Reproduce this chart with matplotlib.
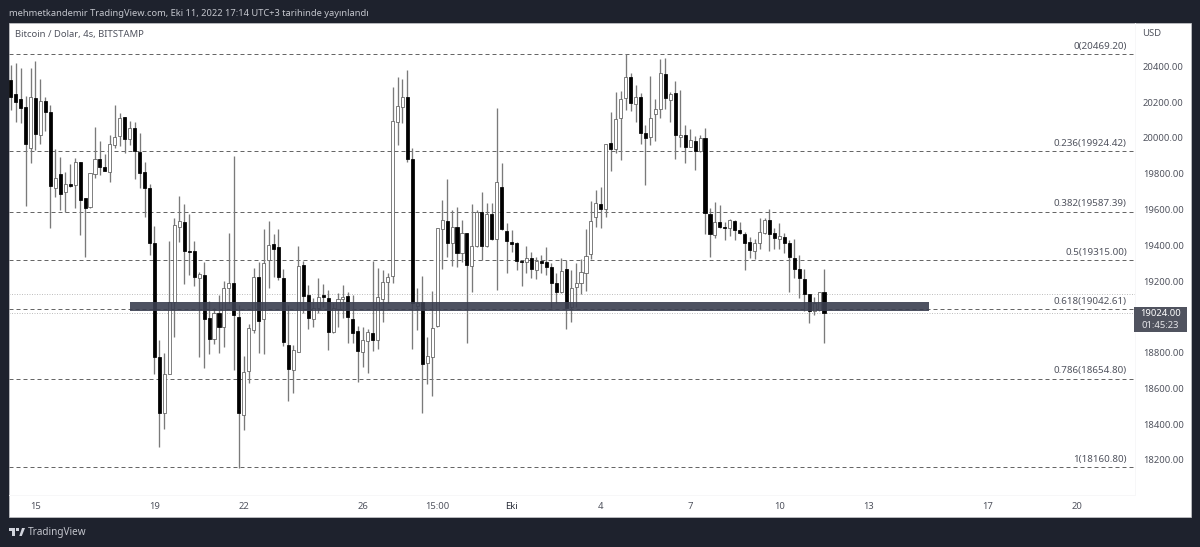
import matplotlib
matplotlib.use("Agg")
import matplotlib.pyplot as plt
from matplotlib.patches import Rectangle, Polygon

opens = [20324,20246,20216,20175,19942,20221,20018,20206,20145,19722,19800,19698,19744,19739,19864,19662,19616,19798,19882,19837,
19810,19962,20009,20115,19996,20055,19921,19811,19722,19413,18774,18464,18680,19083,19502,19530,19366,19368,19217,19234,
18993,18876,19021,18943,19161,19189,18999,18451,18697,18926,19223,18988,19318,19407,19390,19217,18842,18703,18803,19290,
19122,18988,19049,19122,19105,18915,19044,19100,19116,18988,18921,18803,18865,18910,18870,19100,19195,19228,20089,20173,
20229,19882,19060,19083,18742,18775,18949,19491,19536,19413,19502,19357,19469,19284,19396,19586,19396,19575,19435,19726,
19480,19418,19413,19312,19306,19329,19262,19312,19306,19278,19189,19139,19267,19055,19167,19189,19245,19351,19558,19631,
19603,19972,19938,20111,20223,20341,20190,20229,20027,20005,20134,20162,20357,20212,20251,20005,20016,19949,19983,19927,
20000,19575,19457,19530,19502,19496,19536,19485,19463,19418,19368,19413,19469,19541,19469,19435,19446,19413,19329,19267,
19211,19128,19032,19038,19139]
highs = [20408,20417,20389,20234,20389,20430,20329,20227,20184,19936,19892,19808,19853,19886,19864,19662,19806,20059,19984,19908,
20016,20184,20141,20115,20093,20091,20026,19867,19742,19508,18870,18796,19426,19552,19675,19631,19575,19424,19250,19306,
19088,19049,19122,19200,19469,19899,19066,18781,18960,19273,19306,19491,19536,19463,19491,19267,19066,18842,19396,19312,
19178,19105,19217,19183,19150,19077,19133,19178,19139,19122,18949,18943,18932,19312,19273,19262,19245,20285,20341,20329,
20380,19944,19161,19228,18887,19144,19496,19653,19770,19597,19614,19541,19469,19631,19597,19698,19636,19636,20167,19860,
19524,19485,19418,19312,19396,19362,19334,19346,19390,19301,19245,19329,19318,19262,19301,19323,19491,19647,19709,19726,
19966,20145,20257,20262,20469,20363,20296,20251,20072,20346,20218,20441,20447,20257,20318,20268,20072,20050,20011,20016,
20055,19608,19642,19625,19530,19547,19541,19530,19474,19446,19435,19552,19552,19603,19496,19524,19469,19429,19435,19346,
19267,19128,19111,19139,19267]
lows = [20156,20089,20082,19621,19862,19932,19966,20040,19498,19671,19597,19584,19727,19610,19457,19334,19610,19774,19793,19815,
19755,19942,19955,19914,19959,19770,19718,19556,19344,18680,18271,18371,18680,18887,19418,19183,19234,19172,18775,18714,
18792,18848,18798,18831,19077,18703,18155,18367,18630,18909,18798,18792,19161,19223,19206,18837,18529,18574,18803,19021,
18932,18943,19021,19055,18815,18909,18943,18993,18854,18854,18636,18720,18686,18809,18820,18971,19077,19189,19960,20083,
19865,18820,18926,18462,18624,18557,18943,19267,19334,19284,19278,19306,18854,19139,19390,19318,19390,19429,19150,19485,
19245,19362,19262,19172,19245,19217,19211,19245,19234,19049,19077,19133,18932,18971,19055,19128,19144,19323,19502,19496,
19558,19815,19916,19877,20156,20150,20089,19966,19737,19960,19983,20111,20162,20089,19882,19949,19860,19949,19821,19921,
19463,19334,19441,19496,19429,19452,19429,19463,19262,19329,19323,19379,19463,19368,19379,19379,19357,19139,19217,19105,
19032,18965,19010,19032,18854]
closes = [20229,20201,20169,19966,20230,20022,20208,20145,19733,19774,19688,19741,19731,19864,19655,19610,19802,19880,19837,19817,
19964,20007,20111,19996,20054,19929,19802,19718,19414,18775,18462,18682,19081,19513,19536,19368,19362,19223,19239,18988,
18876,19021,18943,19161,19189,19010,18462,18692,18938,19223,18977,19301,19401,19379,19223,18859,18708,18815,19284,19116,
18993,19049,19111,19111,18915,19049,19100,19111,18999,18910,18809,18870,18915,18870,19111,19195,19223,20095,20178,20229,
19882,19077,19077,18736,18781,18938,19496,19541,19413,19502,19357,19469,19290,19396,19586,19396,19575,19435,19754,19491,
19424,19407,19312,19306,19329,19267,19312,19301,19278,19189,19139,19256,19049,19161,19189,19250,19340,19536,19636,19603,
19966,19938,20106,20218,20341,20195,20229,20027,20000,20111,20162,20363,20223,20246,20016,20016,19949,19988,19927,20000,
19580,19463,19530,19502,19496,19541,19485,19468,19413,19374,19413,19474,19541,19463,19441,19452,19413,19334,19267,19217,
19128,19032,19077,19139,19021]

fib_labels = ["0(20469.20)","0.236(19924.42)","0.382(19587.39)","0.5(19315.00)","0.618(19042.61)","0.786(18654.80)","1(18160.80)"]
fib_values = [20469.20,19924.42,19587.39,19315.00,19042.61,18654.80,18160.80]
price_ticks = [20400,20200,20000,19800,19600,19400,19200,18800,18600,18400,18200]
date_ticks = [5,29,47,71,86,101,119,137,155,173,197,215]
date_labels = ["15","19","22","26","15:00","Eki","4","7","10","13","17","20"]
band_low, band_high = 19033, 19081
band_start, band_end = 24.06, 185.2
last_price = 19024.00
countdown = "01:45:23"
prev_level = 19126
header = "mehmetkandemir TradingView.com, Eki 11, 2022 17:14 UTC+3 tarihinde yayınlandı"
symbol = "Bitcoin / Dolar, 4s, BITSTAMP"

W, H = 1200, 547
BG = "#1e222d"
TXT = "#50535e"
plt.rcParams['font.family'] = ['Noto Sans', 'DejaVu Sans']

fig = plt.figure(figsize=(W/100, H/100), dpi=100, facecolor=BG)
def fx(x): return x/W
def fy(y): return 1-y/H
def frect(x0,y0,x1,y1,**k):
    fig.add_artist(Rectangle((fx(x0),fy(y1)),(x1-x0)/W,(y1-y0)/H,transform=fig.transFigure,**k))
def ftext(x,y,s,**k):
    fig.text(fx(x),fy(y),s,**k)

frect(9,23,1191,517,fc="white",ec="#c8c9cc",lw=0.5,zorder=0)

ax = fig.add_axes([fx(9),fy(495),(1134.5-9)/W,(495-23)/H])
ax.patch.set_alpha(0)
ax.set_xlim(-0.337,226.6)
ax.set_ylim(18004,20642.5)
for s in ax.spines.values(): s.set_visible(False)
for n in ('right','bottom'):
    ax.spines[n].set_visible(True); ax.spines[n].set_color("#f7f7f8"); ax.spines[n].set_linewidth(0.7)
ax.yaxis.tick_right()
ax.set_yticks(price_ticks)
ax.set_yticklabels([f"{v:.2f}" for v in price_ticks], fontsize=6.8, color=TXT)
ax.set_xticks(date_ticks)
ax.set_xticklabels(date_labels, fontsize=6.8, color=TXT)
for t in ax.get_xticklabels():
    if t.get_text()=="Eki":
        t.set_fontweight("bold"); t.set_color("#2a2e39")
ax.tick_params(axis='both', length=0)
ax.tick_params(axis='y', pad=6)
ax.tick_params(axis='x', pad=5)

idx = list(range(len(opens)))
ax.vlines(idx, lows, highs, color="#7a7a7a", lw=0.95, zorder=2)
for i,o,c in zip(idx,opens,closes):
    up = c>=o
    ax.bar(i, abs(c-o), bottom=min(o,c), width=0.62,
           fc="white" if up else "black", ec="#5c5c5c" if up else "black", lw=0.55, zorder=3)

for v,l in zip(fib_values,fib_labels):
    ax.axhline(v,color="#666666",lw=0.72,ls=(0,(4,3)),zorder=1)
    ax.annotate(l,xy=(1,v),xycoords=ax.get_yaxis_transform(),xytext=(-5.5,5.6),textcoords="offset points",
                ha="right",va="center",fontsize=7.05,color=TXT)
for v in (prev_level,last_price):
    ax.axhline(v,color="#c0c0c0",lw=0.72,ls=(0,(1,1.5)),zorder=1)
ax.add_patch(Rectangle((band_start,band_low),band_end-band_start,band_high-band_low,fc="#3b3f50",ec="none",alpha=0.9,zorder=4))

ftext(9,13,header,fontsize=6.7,color="#c4c6cd",va="center",ha="left")
ftext(15,35,symbol,fontsize=6.85,color=TXT,va="center",ha="left")
ftext(1142,33,"USD",fontsize=6.8,color=TXT,va="center",ha="left")

frect(1134,306.5,1187,332,fc="#50535f",ec="none",zorder=5)
ftext(1160.5,314,f"{last_price:.2f}",fontsize=6.8,color="white",fontweight="bold",ha="center",va="center",zorder=6)
ftext(1160.5,325.5,countdown,fontsize=6.8,color="#e6e6ea",ha="center",va="center",zorder=6)

LOGO="#d1d4dc"
def fpoly(pts):
    fig.add_artist(Polygon([(fx(a),fy(b)) for a,b in pts],closed=True,transform=fig.transFigure,fc=LOGO,ec="none"))
fpoly([(8.5,528),(15,528),(15,536),(11.7,536),(11.7,531),(8.5,531)])
fpoly([(19.3,536),(22,528),(25,528),(21.8,536)])
fpoly([(16,528),(19,528),(19,531),(16,531)])
ftext(28,533,"TradingView",fontsize=7.2,color="#c4c6cd",va="center",ha="left")

fig.savefig("out.png",dpi=100,facecolor=BG)
